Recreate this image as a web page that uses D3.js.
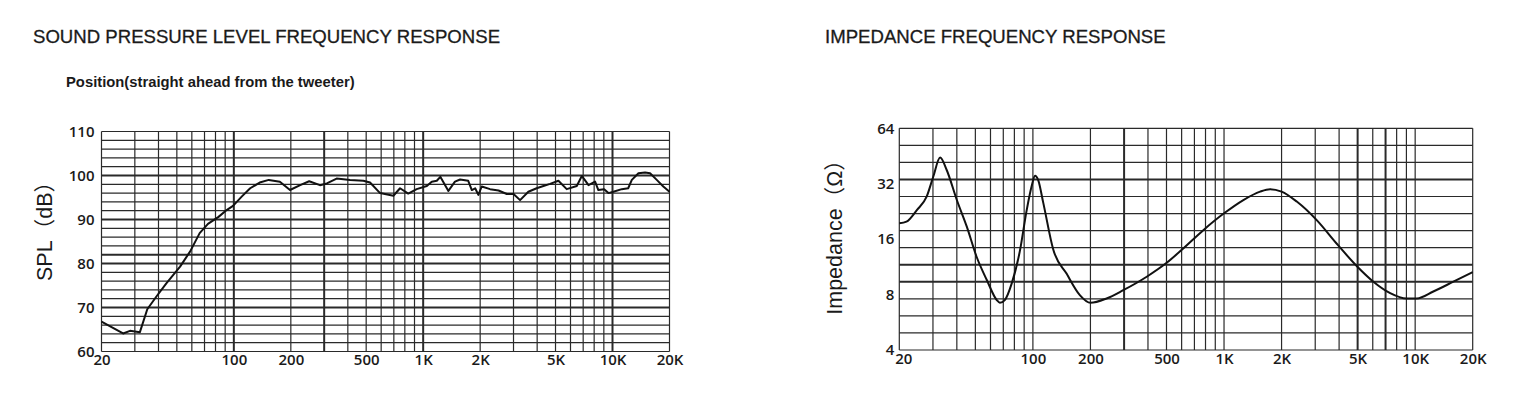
<!DOCTYPE html>
<html>
<head>
<meta charset="utf-8">
<script src="https://cdn.jsdelivr.net/npm/d3@7"></script>
<style>
  body { margin: 0; background: #fff; }
  svg { display: block; }
  text { font-family: "Liberation Sans", Arial, "Noto Sans CJK SC", sans-serif; fill: #1a1a1a; }
  .tick text { font-family: "Open Sans", sans-serif; font-weight: 600; font-size: 15px; fill: #1a1a1a; }
  .title { stroke: #1a1a1a; stroke-width: 0.3px; }
</style>
</head>
<body>
<svg id="chart" width="1536" height="399"></svg>
<script>
'use strict';

// shared frequency axis
var freqGrid = [20, 30, 40, 50, 60, 70, 80, 90, 100, 200, 300, 400, 500, 600, 700, 800, 900,
                1000, 2000, 3000, 4000, 5000, 6000, 7000, 8000, 9000, 10000, 20000];
var freqTicks = [20, 100, 200, 500, 1000, 2000, 5000, 10000, 20000];
var freqLabels = ["20", "100", "200", "500", "1K", "2K", "5K", "10K", "20K"];

// SPL chart
var splTicks = [60, 70, 80, 90, 100, 110];
var splThick = [70, 80, 82, 90, 100];
var splThickFreq = [100, 300, 1000, 10000];
var splFreq = [20, 26, 28.3, 31.9, 34.9, 39, 44, 52, 58.7, 66, 73, 83, 92, 99, 110, 122, 137, 153, 175, 198,
               224, 250, 285, 310, 349, 411, 483, 524, 592, 696, 755, 834, 924, 1045, 1110, 1180, 1232, 1359,
               1472, 1567, 1730, 1807, 1882, 1957, 2038, 2256, 2500, 2764, 3000, 3250, 3594, 3975, 4316, 4680,
               5180, 5730, 6475, 6885, 7470, 8090, 8420, 9030, 9520, 10110, 11200, 12100, 12650, 13710, 14860,
               15790, 17130, 18550, 20000];
var splDb = [66.8, 64.1, 64.7, 64.4, 69.6, 72.5, 75.5, 79.3, 82.7, 86.9, 89, 90.6, 92.2, 93.1, 95.2, 97.1, 98.4, 99.0, 98.6, 96.7,
             97.8, 98.7, 97.8, 98.2, 99.3, 99.0, 98.8, 98.4, 96.0, 95.4, 97.1, 95.9, 96.9, 97.6, 98.6, 98.8, 99.7, 96.5,
             98.6, 99.1, 98.8, 96.7, 97.1, 95.6, 97.5, 96.9, 96.6, 95.8, 95.8, 94.4, 96.3, 97.1, 97.6, 98.1,
             98.8, 96.9, 97.6, 99.9, 97.8, 98.6, 96.7, 96.9, 96.0, 96.3, 96.9, 97.1, 99.0, 100.5, 100.7,
             100.5, 99.0, 97.5, 96.3];

// impedance chart
var impTicks = [4, 8, 16, 32, 64];
var impRows = 13;
var impThickRows = [3, 8, 9];
var impThickFreq = [300, 5000, 7000];
var impFreq = [20, 21.8, 24.7, 27.8, 30.1, 32.7, 35.4, 40, 45.1, 50.8, 57.4, 64.7, 67.2, 71.3, 77.5, 85.6, 92.8,
               98.4, 102.6, 106.6, 113.4, 127.9, 150, 176, 200, 243, 297, 394, 501, 601, 779, 1000, 1262, 1544,
               1742, 2000, 2402, 3055, 3890, 5000, 6045, 7400, 9000, 10200, 12450, 15850, 20000];
var impOhm = [19.5, 19.9, 23.0, 27.2, 34.9, 44.4, 38.0, 26.1, 18.7, 12.8, 9.6, 7.47, 7.22, 7.47, 9.2, 13.9, 23.0,
              30.9, 35.4, 33.5, 25.1, 14.0, 10.4, 7.95, 7.22, 7.62, 8.45, 10.0, 11.9, 14.0, 17.9, 22.1, 26.1, 29.0,
              29.9, 29.0, 25.6, 20.3, 15.1, 11.3, 9.4, 8.15, 7.62, 7.62, 8.31, 9.4, 10.6];

var svg = d3.select("#chart");
var gridColor = "#2a2a2a";

// ---------- left: SPL ----------
var x1 = d3.scaleLog().domain([20, 20000]).range([101.5, 669.5]);
var y1 = d3.scaleLinear().domain([60, 110]).range([351.5, 131.5]);
var g1 = svg.append("g");

g1.selectAll("line.h")
    .data(d3.range(60, 111, 2))
    .enter()
    .append("line")
    .attr("x1", x1.range()[0]).attr("x2", x1.range()[1])
    .attr("y1", function(d) { return y1(d); })
    .attr("y2", function(d) { return y1(d); })
    .attr("stroke", gridColor)
    .attr("stroke-width", function(d) { return splThick.indexOf(d) >= 0 ? 2 : 1.2; });

g1.selectAll("line.v")
    .data(freqGrid)
    .enter()
    .append("line")
    .attr("x1", function(d) { return x1(d); })
    .attr("x2", function(d) { return x1(d); })
    .attr("y1", y1.range()[0]).attr("y2", y1.range()[1])
    .attr("stroke", gridColor)
    .attr("stroke-width", function(d) { return splThickFreq.indexOf(d) >= 0 ? 2 : 1.2; });

g1.append("g")
    .attr("transform", "translate(" + x1.range()[0] + ",0)")
    .call(d3.axisLeft(y1).tickValues(splTicks).tickSize(0).tickPadding(7))
    .call(function(g) { g.select(".domain").remove(); });

g1.append("g")
    .attr("transform", "translate(0," + y1.range()[0] + ")")
    .call(d3.axisBottom(x1).tickValues(freqTicks).tickSize(0).tickPadding(3)
        .tickFormat(function(d, i) { return freqLabels[i]; }))
    .call(function(g) { g.select(".domain").remove(); });

g1.append("path")
    .datum(d3.zip(splFreq, splDb))
    .attr("fill", "none")
    .attr("stroke", "#111")
    .attr("stroke-width", 2)
    .attr("stroke-linejoin", "round")
    .attr("d", d3.line()
        .x(function(d) { return x1(d[0]); })
        .y(function(d) { return y1(d[1]); }));

svg.append("text").attr("class", "title").attr("x", 33).attr("y", 43)
    .style("font-size", "18.6px")
    .text("SOUND PRESSURE LEVEL FREQUENCY RESPONSE");
svg.append("text").attr("x", 66).attr("y", 87)
    .style("font-size", "14.8px").style("font-weight", "bold")
    .text("Position(straight ahead from the tweeter)");
svg.append("text")
    .attr("transform", "translate(52,226) rotate(-90)")
    .attr("text-anchor", "middle")
    .style("font-size", "21.5px")
    .text("SPL（dB）");

// ---------- right: impedance ----------
var x2 = d3.scaleLog().domain([20, 20000]).range([899.3, 1472.7]);
var y2 = d3.scaleLog().base(2).domain([4, 64]).range([350, 128.3]);
var rows = d3.scaleLinear().domain([0, impRows]).range([y2.range()[1], y2.range()[0]]);
var g2 = svg.append("g");

g2.selectAll("line.h")
    .data(d3.range(0, impRows + 1))
    .enter()
    .append("line")
    .attr("x1", x2.range()[0]).attr("x2", x2.range()[1])
    .attr("y1", function(d) { return rows(d); })
    .attr("y2", function(d) { return rows(d); })
    .attr("stroke", gridColor)
    .attr("stroke-width", function(d) { return impThickRows.indexOf(d) >= 0 ? 2 : 1.2; });

g2.selectAll("line.v")
    .data(freqGrid)
    .enter()
    .append("line")
    .attr("x1", function(d) { return x2(d); })
    .attr("x2", function(d) { return x2(d); })
    .attr("y1", y2.range()[0]).attr("y2", y2.range()[1])
    .attr("stroke", gridColor)
    .attr("stroke-width", function(d) { return impThickFreq.indexOf(d) >= 0 ? 2 : 1.2; });

g2.append("g")
    .attr("transform", "translate(" + x2.range()[0] + ",0)")
    .call(d3.axisLeft(y2).tickValues(impTicks).tickSize(0).tickPadding(5).tickFormat(d3.format("d")))
    .call(function(g) { g.select(".domain").remove(); });

g2.append("g")
    .attr("transform", "translate(0," + y2.range()[0] + ")")
    .call(d3.axisBottom(x2).tickValues(freqTicks).tickSize(0).tickPadding(3)
        .tickFormat(function(d, i) { return freqLabels[i]; }))
    .call(function(g) {
        g.select(".domain").remove();
        g.select(".tick text").attr("dx", 4); // "20" sits right of the "4"
    });

g2.append("path")
    .datum(d3.zip(impFreq, impOhm))
    .attr("fill", "none")
    .attr("stroke", "#111")
    .attr("stroke-width", 2)
    .attr("d", d3.line()
        .curve(d3.curveMonotoneX)
        .x(function(d) { return x2(d[0]); })
        .y(function(d) { return y2(d[1]); }));

svg.append("text").attr("class", "title").attr("x", 825).attr("y", 43)
    .style("font-size", "18.6px")
    .text("IMPEDANCE FREQUENCY RESPONSE");
svg.append("text")
    .attr("transform", "translate(842,232) rotate(-90)")
    .attr("text-anchor", "middle")
    .style("font-size", "21.5px")
    .text("Impedance（Ω）");
</script>
</body>
</html>
